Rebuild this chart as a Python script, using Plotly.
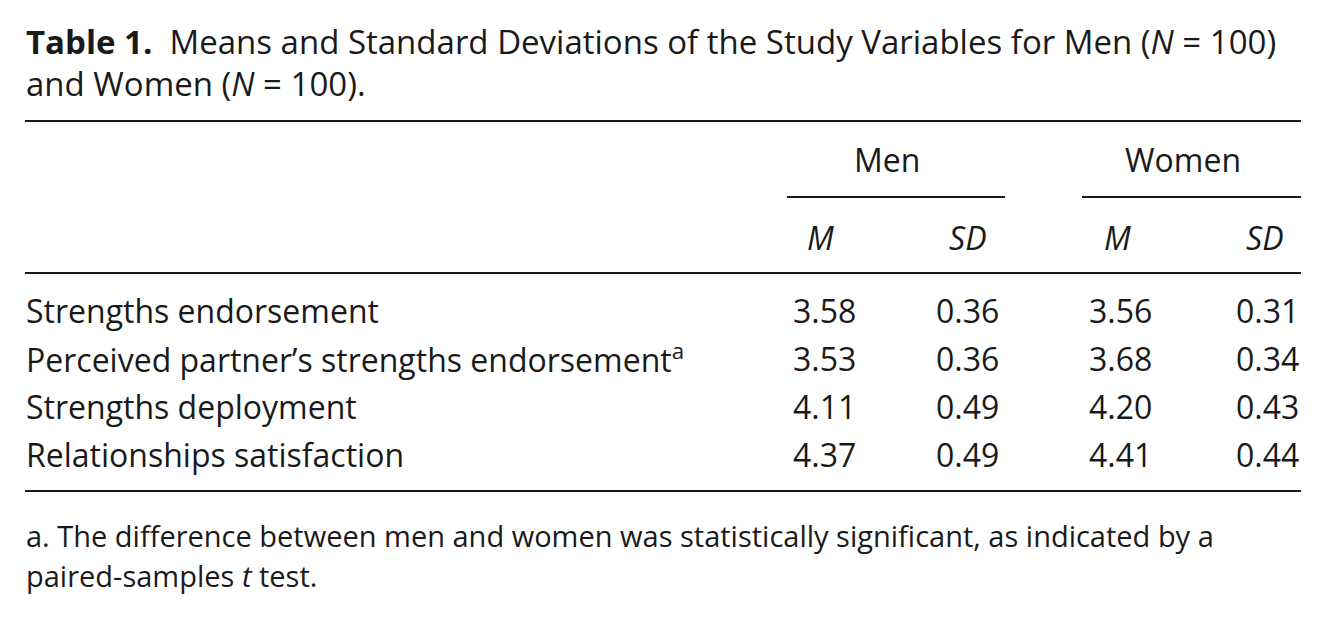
import plotly.graph_objects as go

W, H = 1327, 617

title_line1 = "<b>Table 1.</b>  Means and Standard Deviations of the Study Variables for Men (<i>N</i> = 100)"
title_line2 = "and Women (<i>N</i> = 100)."
groups = ["Men", "Women"]
subheads = ["<i>M</i>", "<i>SD</i>", "<i>M</i>", "<i>SD</i>"]
variables = [
    "Strengths endorsement",
    "Perceived partner\u2019s strengths endorsement<sup>a</sup>",
    "Strengths deployment",
    "Relationships satisfaction",
]
men_m = ["3.58", "3.53", "4.11", "4.37"]
men_sd = ["0.36", "0.36", "0.49", "0.49"]
women_m = ["3.56", "3.68", "4.20", "4.41"]
women_sd = ["0.31", "0.34", "0.43", "0.44"]
footnote1 = "a. The difference between men and women was statistically significant, as indicated by a"
footnote2 = "paired-samples <i>t</i> test."

FONT = "Open Sans"
COLOR = "#1a1a1a"
FS = 32
OX, OY = -8, -8  # page body margin compensation

def px(x):
    return (x + OX) / W

def py(y):
    return 1 - (y + OY) / H

ann = []
def text(t, x, y, xanchor="left", size=FS):
    ann.append(dict(text=t, x=px(x), y=py(y), xref="paper", yref="paper",
                    xanchor=xanchor, yanchor="middle", showarrow=False,
                    font=dict(family=FONT, size=size, color=COLOR)))

shapes = []
def rule(x0, x1, y, w=2):
    shapes.append(dict(type="line", xref="paper", yref="paper",
                       x0=px(x0), x1=px(x1), y0=py(y), y1=py(y),
                       line=dict(color=COLOR, width=w)))

# title
text(title_line1, 24, 41, size=33)
text(title_line2, 24, 84, size=33)
rule(25, 1301, 121)

# group headers
group_x = [887, 1183]
for g, gx in zip(groups, group_x):
    text(g, gx, 159, "center")
rule(787, 1005, 197)
rule(1082, 1301, 197)

sub_x = [820, 968, 1117, 1265]
for s, sx in zip(subheads, sub_x):
    text(s, sx, 237, "center")
rule(25, 1301, 273)

row_y = [310, 358, 406, 454]
col_left = [791, 934, 1087, 1234]
cols = [men_m, men_sd, women_m, women_sd]
for i, (v, ry) in enumerate(zip(variables, row_y)):
    text(v, 24, ry)
    for c, cx in zip(cols, col_left):
        text(c[i], cx, ry)
rule(25, 1301, 491)

text(footnote1, 24, 535, size=29)
text(footnote2, 24, 575, size=29)

fig = go.Figure()
fig.update_layout(width=W, height=H, margin=dict(l=0, r=0, t=0, b=0),
                  paper_bgcolor="white", plot_bgcolor="white",
                  xaxis=dict(visible=False), yaxis=dict(visible=False),
                  annotations=ann, shapes=shapes, showlegend=False)
fig.write_html("out.html")
